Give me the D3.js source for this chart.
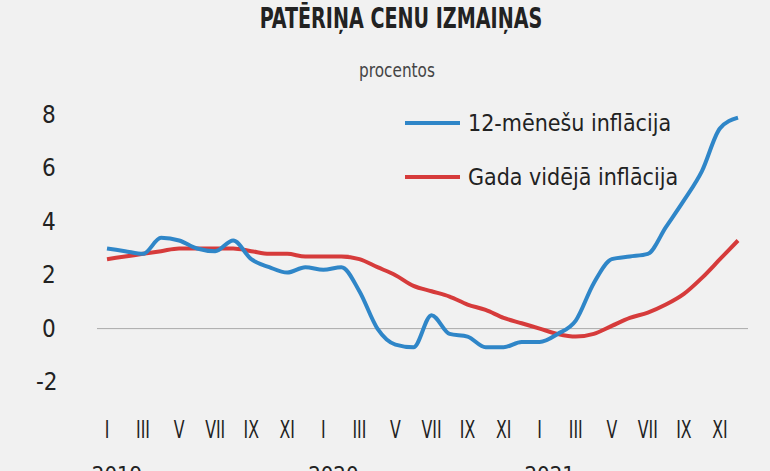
<!DOCTYPE html>
<html><head><meta charset="utf-8">
<script src="https://cdn.jsdelivr.net/npm/d3@7"></script>
<style>
body{margin:0;background:#f1f1f1;}
text{font-family:"Liberation Sans Narrow","DejaVu Sans Condensed",sans-serif;fill:#222;}
</style></head><body>
<svg id="svg" width="770" height="471"></svg>
<script>
const monthLabels = ['I','II','III','IV','V','VI','VII','VIII','IX','X','XI','XII'];
const years = ['2019','2020','2021'];
const inflation12 = [3.0,2.9,2.8,3.4,3.3,3.0,2.9,3.3,2.6,2.3,2.1,2.3,
  2.2,2.3,1.4,0.0,-0.6,-0.7,0.5,-0.2,-0.3,-0.7,-0.7,-0.5,
  -0.5,-0.2,0.3,1.7,2.6,2.7,2.8,3.8,4.8,5.9,7.5,7.9];
const inflationAvg = [2.6,2.7,2.8,2.9,3.0,3.0,3.0,3.0,2.9,2.8,2.8,2.7,
  2.7,2.7,2.6,2.3,2.0,1.6,1.4,1.2,0.9,0.7,0.4,0.2,
  0.0,-0.2,-0.3,-0.2,0.1,0.4,0.6,0.9,1.3,1.9,2.6,3.3];
const yTicks = [-2,0,2,4,6,8];

const svg = d3.select('#svg');
const x = d3.scaleLinear().domain([0,35]).range([107,738]);
const y = d3.scaleLinear().domain([-2,8]).range([382,115]);

svg.append('text').attr('x',401).attr('y',28).attr('text-anchor','middle')
  .style('font-size','28px').style('font-weight','600')
  .attr('transform','translate(401,0) scale(0.76,1) translate(-401,0)')
  .text('PATĒRIŅA CENU IZMAIŅAS');
svg.append('text').attr('x',397).attr('y',77).attr('text-anchor','middle')
  .style('font-size','20px').style('fill','#444')
  .attr('transform','translate(397,0) scale(0.85,1) translate(-397,0)').text('procentos');

const yAxis = svg.append('g');
yAxis.selectAll('text').data(yTicks).join('text')
  .attr('x',d => d < 0 ? 36 : 42).attr('y',d => y(d)+8).attr('text-anchor','start')
  .style('font-size','24px').text(d => d < 0 ? '-' + Math.abs(d) : d);

svg.append('line').attr('x1',97).attr('x2',748).attr('y1',y(0)).attr('y2',y(0))
  .attr('stroke','#aaa').attr('stroke-width',1);

const months = d3.range(36);
const xg = svg.append('g');
xg.selectAll('text').data(months.filter(m => m % 2 === 0)).join('text')
  .attr('x',d => x(d)).attr('y',438).attr('text-anchor','middle')
  .style('font-size','25px').attr('transform',d => `translate(${x(d)},0) scale(0.7,1) translate(${-x(d)},0)`)
  .text(d => monthLabels[d % 12]);
xg.selectAll('.yr').data(years).join('text').attr('class','yr')
  .attr('x',(d,i) => x(i*12)+10).attr('y',482).attr('text-anchor','middle')
  .style('font-size','22px').text(d => d);

const line = d3.line().x((d,i) => x(i)).y(d => y(d)).curve(d3.curveMonotoneX);
svg.append('path').datum(inflationAvg).attr('d',line).attr('fill','none')
  .attr('stroke','#d63b3b').attr('stroke-width',4);
svg.append('path').datum(inflation12).attr('d',line).attr('fill','none')
  .attr('stroke','#2f86c8').attr('stroke-width',4);

const legend = [{t:'12-mēnešu inflācija',c:'#2f86c8',y:123},{t:'Gada vidējā inflācija',c:'#d63b3b',y:177}];
const lg = svg.selectAll('.lg').data(legend).join('g').attr('class','lg');
lg.append('line').attr('x1',405).attr('x2',460).attr('y1',d => d.y).attr('y2',d => d.y)
  .attr('stroke',d => d.c).attr('stroke-width',4);
lg.append('text').attr('x',468).attr('y',d => d.y+8).style('font-size','23px').text(d => d.t);
</script></body></html>
